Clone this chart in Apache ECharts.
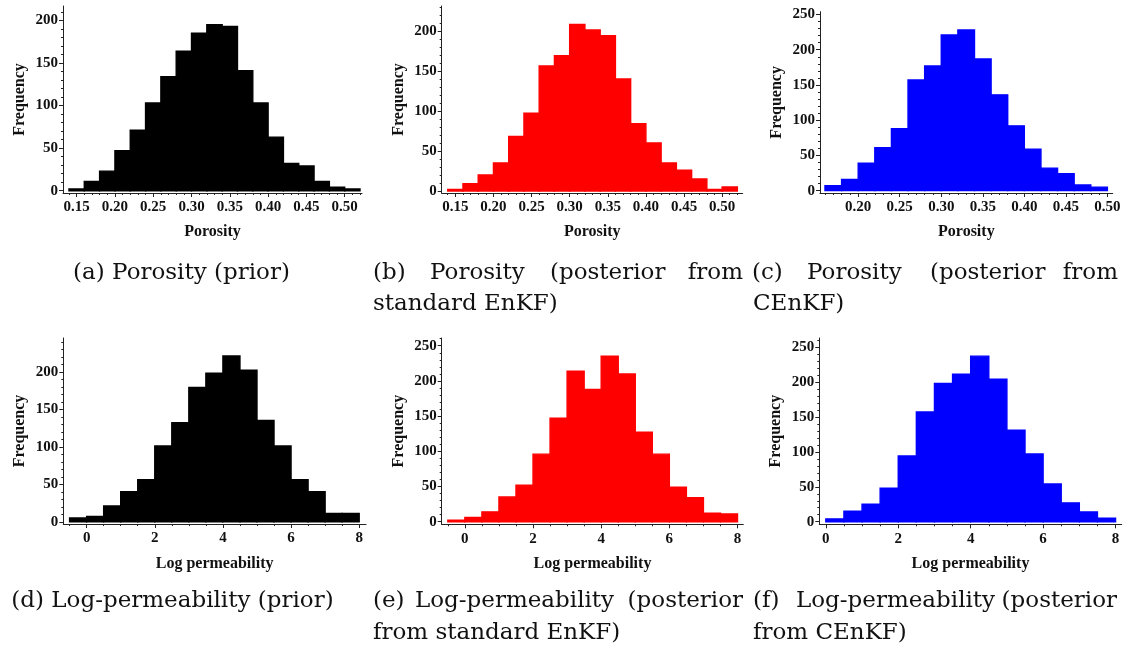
<!DOCTYPE html>
<html>
<head>
    <meta charset='utf-8'/>
    <title>Porosity and log-permeability histograms</title>
    <style>
        body {
            margin: 0;
            padding: 0;
            background: #fff;
        }

        #chart {
            width: 1131px;
            height: 651px;
        }
    </style>
</head>
<body>
<div id='chart'></div>
<script src="https://cdn.jsdelivr.net/npm/echarts@6/dist/echarts.min.js"></script>
<script type="text/javascript">
    // bin starts
    var porosityBins = [0.14, 0.16, 0.18, 0.20, 0.22, 0.24, 0.26, 0.28, 0.30, 0.32, 0.34, 0.36, 0.38, 0.40, 0.42, 0.44, 0.46, 0.48, 0.50];
    var porosityBinsC = [0.16, 0.18, 0.20, 0.22, 0.24, 0.26, 0.28, 0.30, 0.32, 0.34, 0.36, 0.38, 0.40, 0.42, 0.44, 0.46, 0.48];
    var permBins = [-0.5, 0, 0.5, 1, 1.5, 2, 2.5, 3, 3.5, 4, 4.5, 5, 5.5, 6, 6.5, 7, 7.5];
    var permBinsF = [0, 0.5, 1, 1.5, 2, 2.5, 3, 3.5, 4, 4.5, 5, 5.5, 6, 6.5, 7, 7.5];
    var porosityWidth = 0.02;
    var permWidth = 0.5;

    // frequencies
    var countsA = [2, 11, 23, 47, 71, 103, 134, 164, 185, 195, 193, 141, 103, 63, 32, 29, 11, 4, 2];
    var countsB = [2, 9, 20, 35, 68, 97, 156, 169, 208, 201, 194, 140, 84, 60, 35, 26, 15, 2, 5];
    var countsC = [7, 16, 39, 61, 88, 157, 177, 221, 228, 187, 136, 92, 59, 32, 24, 8, 5];
    var countsD = [5, 7, 21, 40, 56, 101, 132, 179, 198, 221, 202, 135, 101, 56, 40, 11, 11];
    var countsE = [2, 6, 14, 35, 52, 96, 147, 214, 188, 235, 210, 127, 96, 49, 34, 12, 11];
    var countsF = [4, 15, 25, 48, 94, 157, 198, 211, 237, 204, 131, 97, 54, 27, 14, 5];

    // tick labels
    var porosityTicks = [0.15, 0.20, 0.25, 0.30, 0.35, 0.40, 0.45, 0.50];
    var porosityTicksC = [0.20, 0.25, 0.30, 0.35, 0.40, 0.45, 0.50];
    var permTicks = [0, 2, 4, 6, 8];
    var freqTicks200 = [0, 50, 100, 150, 200];
    var freqTicks250 = [0, 50, 100, 150, 200, 250];

    function steps(from, to, step) {
        var out = [];
        for (var v = from; v <= to + 1e-9; v += step) out.push(Math.round(v * 1000) / 1000);
        return out;
    }

    var panels = [
        {bins: porosityBins, width: porosityWidth, counts: countsA, color: '#000000', name: 'Porosity',
            xTicks: porosityTicks, xMinor: steps(0.14, 0.52, 0.01), yTicks: freqTicks200,
            left: 63, right: 362, top: 6, bottom: 193, xMin: 0.1322, xMax: 0.5226, yMin: -2.7, yMax: 217},
        {bins: porosityBins, width: porosityWidth, counts: countsB, color: '#ff0000', name: 'Porosity',
            xTicks: porosityTicks, xMinor: steps(0.14, 0.52, 0.01), yTicks: freqTicks200,
            left: 441.7, right: 742.7, top: 6, bottom: 193, xMin: 0.1321, xMax: 0.527, yMin: -2.5, yMax: 231},
        {bins: porosityBinsC, width: porosityWidth, counts: countsC, color: '#0000ff', name: 'Porosity',
            xTicks: porosityTicksC, xMinor: steps(0.16, 0.50, 0.01), yTicks: freqTicks250,
            left: 820, right: 1112.7, top: 11.7, bottom: 193, xMin: 0.154, xMax: 0.5064, yMin: -3.3, yMax: 254},
        {bins: permBins, width: permWidth, counts: countsD, color: '#000000', name: 'Log permeability',
            xTicks: permTicks, xMinor: steps(-0.5, 8, 0.5), yTicks: freqTicks200,
            left: 63.3, right: 366, top: 338, bottom: 524, xMin: -0.685, xMax: 8.2, yMin: -3, yMax: 245},
        {bins: permBins, width: permWidth, counts: countsE, color: '#ff0000', name: 'Log permeability',
            xTicks: permTicks, xMinor: steps(-0.5, 8, 0.5), yTicks: freqTicks250,
            left: 441.7, right: 743.3, top: 338, bottom: 524.3, xMin: -0.68, xMax: 8.17, yMin: -3.7, yMax: 261},
        {bins: permBinsF, width: permWidth, counts: countsF, color: '#0000ff', name: 'Log permeability',
            xTicks: permTicks, xMinor: steps(0, 8, 0.5), yTicks: freqTicks250,
            left: 819.3, right: 1121.7, top: 338, bottom: 524.3, xMin: -0.18, xMax: 8.17, yMin: -3.7, yMax: 263}
    ];

    var labelFont = {fontFamily: 'Liberation Serif', fontWeight: 'bold', fontSize: 15, color: '#111'};
    var nameFont = {fontFamily: 'Liberation Serif', fontWeight: 'bold', fontSize: 16, color: '#111'};
    var axisColor = '#222';

    var grids = [], xAxes = [], yAxes = [], series = [];

    panels.forEach(function (p, i) {
        grids.push({
            left: p.left, top: p.top, width: p.right - p.left, height: p.bottom - p.top,
            containLabel: false, outerBoundsMode: 'none'
        });
        var isPoro = p.name === 'Porosity';
        // major x axis
        xAxes.push({
            type: 'value', gridIndex: i, position: 'bottom', min: p.xMin, max: p.xMax,
            axisLine: {show: true, onZero: false, lineStyle: {color: axisColor, width: 1}},
            axisTick: {show: true, length: 4, customValues: p.xTicks, lineStyle: {color: axisColor}},
            axisLabel: Object.assign({
                customValues: p.xTicks, margin: 7,
                formatter: function (v) { return isPoro ? v.toFixed(2) : String(v); }
            }, labelFont),
            splitLine: {show: false},
            name: p.name, nameLocation: 'middle', nameGap: i < 3 ? 31 : 32,
            nameTextStyle: nameFont
        });
        // minor x ticks
        xAxes.push({
            type: 'value', gridIndex: i, position: 'bottom', min: p.xMin, max: p.xMax,
            axisLine: {show: false, onZero: false},
            axisTick: {show: true, length: 2, customValues: p.xMinor, lineStyle: {color: axisColor}},
            axisLabel: {show: false},
            splitLine: {show: false}
        });
        // major y axis
        yAxes.push({
            type: 'value', gridIndex: i, position: 'left', min: p.yMin, max: p.yMax,
            axisLine: {show: true, onZero: false, lineStyle: {color: axisColor, width: 1}},
            axisTick: {show: true, length: 4, customValues: p.yTicks, lineStyle: {color: axisColor}},
            axisLabel: Object.assign({customValues: p.yTicks, margin: 5}, labelFont),
            splitLine: {show: false},
            name: 'Frequency', nameLocation: 'middle', nameGap: 35, nameRotate: 90,
            nameTextStyle: nameFont
        });
        // minor y ticks
        yAxes.push({
            type: 'value', gridIndex: i, position: 'left', min: p.yMin, max: p.yMax,
            axisLine: {show: false, onZero: false},
            axisTick: {show: true, length: 2, customValues: steps(0, Math.floor(p.yMax / 10) * 10, 10), lineStyle: {color: axisColor}},
            axisLabel: {show: false},
            splitLine: {show: false}
        });

        series.push({
            type: 'custom',
            xAxisIndex: 2 * i,
            yAxisIndex: 2 * i,
            encode: {x: [0, 1], y: 2},
            data: p.bins.map(function (b, k) {
                return [b, b + p.width, p.counts[k]];
            }),
            renderItem: function (params, api) {
                var p0 = api.coord([api.value(0), api.value(2)]);
                var p1 = api.coord([api.value(1), 0]);
                return {
                    type: 'rect',
                    shape: {x: p0[0], y: p0[1], width: p1[0] - p0[0], height: p1[1] - p0[1]},
                    style: {fill: p.color, stroke: p.color, lineWidth: 1.4}
                };
            }
        });
    });

    // captions
    var capFont = 'DejaVu Serif';
    function cap(text, x, y, align) {
        return {
            type: 'text',
            style: {
                text: text, x: x, y: y, fill: '#111',
                fontFamily: capFont, fontSize: 23,
                textAlign: align || 'left', textVerticalAlign: 'middle'
            }
        };
    }

    var captions = [
        cap('(a) Porosity (prior)', 181.5, 273, 'center'),
        cap('(b)', 373, 273), cap('Porosity', 430, 273), cap('(posterior', 550, 273), cap('from', 743, 273, 'right'),
        cap('standard EnKF)', 373, 304),
        cap('(c)', 752, 273), cap('Porosity', 807, 273), cap('(posterior', 930, 273), cap('from', 1118, 273, 'right'),
        cap('CEnKF)', 753, 304),
        cap('(d) Log-permeability (prior)', 172.5, 601, 'center'),
        cap('(e)', 373, 601), cap('Log-permeability', 415, 601), cap('(posterior', 743, 601, 'right'),
        cap('from standard EnKF)', 373, 633),
        cap('(f)', 753, 601), cap('Log-permeability', 796, 601), cap('(posterior', 1117, 601, 'right'),
        cap('from CEnKF)', 753, 633)
    ];

    var chart = echarts.init(document.getElementById('chart'), null, {renderer: 'canvas'});
    chart.setOption({
        animation: false,
        backgroundColor: '#ffffff',
        grid: grids,
        xAxis: xAxes,
        yAxis: yAxes,
        series: series,
        graphic: captions
    });
</script>
</body>
</html>
